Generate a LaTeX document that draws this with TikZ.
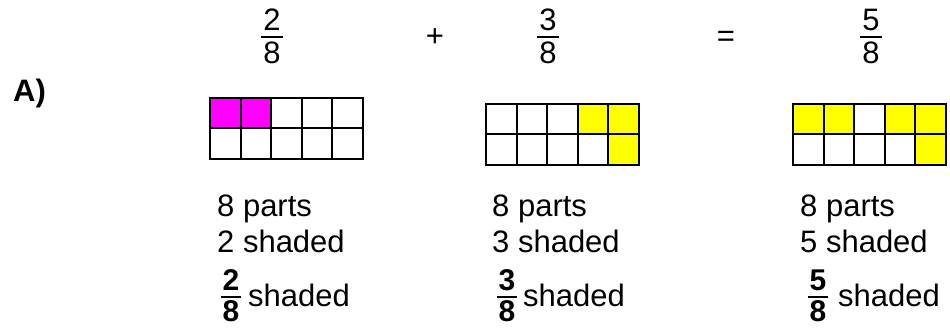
\documentclass[tikz,border=0pt]{standalone}
\usepackage{fontspec}
\setmainfont{Liberation Sans}
\definecolor{mag}{RGB}{255,0,255}
\definecolor{yel}{RGB}{255,255,0}
\newcommand\fgrid[4]{%
  \foreach \c/\r in {#4} \fill[#3] ({#1+\c*30.6},{#2+\r*30.5}) rectangle ++(30.6,30.5);
  \foreach \i in {0,...,4} \foreach \j in {0,1}
    \draw[gridline] ({#1+\i*30.6},{#2+\j*30.5}) rectangle ++(30.6,30.5);
}
\tikzset{
  gridline/.style={black, line width=2},
  txt/.style={inner sep=0, anchor=base west, font=\fontsize{31}{36}\selectfont},
  dig/.style={inner sep=0, anchor=base, font=\fontsize{31}{36}\selectfont},
  bdig/.style={inner sep=0, anchor=base, font=\fontsize{30}{36}\selectfont\bfseries},
  fbar/.style={black, line width=1.6},
  bbar/.style={black, line width=2.4},
}
\begin{document}
\begin{tikzpicture}[x=1pt, y=-1pt]
\useasboundingbox (0,0) rectangle (950,328);
% label
\node[inner sep=0, anchor=base west, font=\fontsize{31}{36}\selectfont\bfseries] (lab) at (13,102) {A)};
% top equation
\node[dig] (n1) at (272,31) {2};
\node[dig] (d1) at (272,64) {8};
\draw[fbar] (261,37) -- (283,37);
\node[dig] (plus) at (435,47) {+};
\node[dig] (n2) at (548,31) {3};
\node[dig] (d2) at (548,64) {8};
\draw[fbar] (537,37) -- (559,37);
\node[dig] (eq) at (726,47) {=};
\node[dig] (n3) at (871,31) {5};
\node[dig] (d3) at (871,64) {8};
\draw[fbar] (860,37) -- (882,37);
% grids
\fgrid{210}{98}{mag}{0/0,1/0}
\fgrid{486}{104}{yel}{3/0,4/0,4/1}
\fgrid{793}{104}{yel}{0/0,1/0,3/0,4/0,4/1}
% column 1
\node[txt] (p1) at (217,217) {8 parts};
\node[txt] (s1) at (217,253) {2 shaded};
\node[bdig] (bn1) at (231,291) {2};
\node[bdig] (bd1) at (231,322) {8};
\draw[bbar] (221,297) -- (241,297);
\node[txt] (f1) at (248,307) {shaded};
% column 2
\node[txt] (p2) at (492,217) {8 parts};
\node[txt] (s2) at (492,253) {3 shaded};
\node[bdig] (bn2) at (507,291) {3};
\node[bdig] (bd2) at (507,322) {8};
\draw[bbar] (497,297) -- (517,297);
\node[txt] (f2) at (523,307) {shaded};
% column 3
\node[txt] (p3) at (800,217) {8 parts};
\node[txt] (s3) at (800,253) {5 shaded};
\node[bdig] (bn3) at (818,291) {5};
\node[bdig] (bd3) at (818,322) {8};
\draw[bbar] (808,297) -- (828,297);
\node[txt] (f3) at (838,307) {shaded};
\end{tikzpicture}
\end{document}
